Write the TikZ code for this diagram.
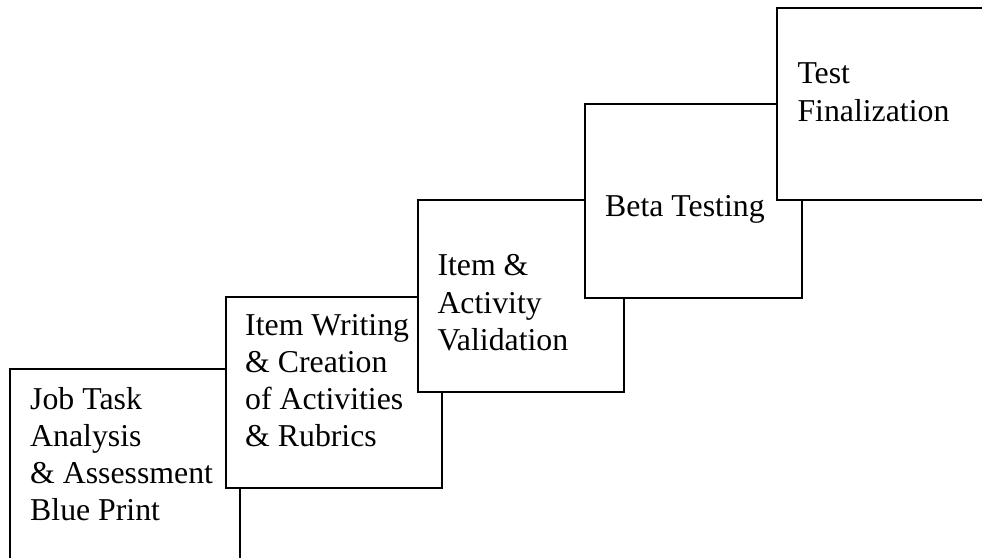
\documentclass[tikz,border=0pt]{standalone}
\usepackage{fontspec}
\setmainfont{Liberation Serif}
\begin{document}
\begin{tikzpicture}[x=1pt,y=-1pt,
  stage/.style={draw=black, fill=white, line width=2pt, inner sep=0pt, anchor=north west},
  caption/.style={inner sep=0pt, anchor=base west, align=left,
    font=\fontsize{31.8}{36.9}\selectfont}]
\useasboundingbox (0,0) rectangle (982,557);
\clip (0,0) rectangle (982,557);

% step 1 (captions are placed by the baseline of their last line)
\node[stage, minimum width=230.5pt, minimum height=240pt] (s1) at (8.5,368) {};
\node[caption] (t1) at (30,520) {Job Task\\Analysis\\\& Assessment\\Blue Print};

% step 2
\node[stage, minimum width=216.2pt, minimum height=191.5pt] (s2) at (224.5,295.5) {};
\node[caption] (t2) at (245,446.2) {Item Writing\\\& Creation\\of Activities\\\& Rubrics};

% step 3
\node[stage, minimum width=206.6pt, minimum height=191.4pt] (s3) at (416.7,199.3) {};
\node[caption, font=\fontsize{31.8}{37.5}\selectfont] (t3) at (437.3,350.7) {Item \&\\Activity\\Validation};

% step 4
\node[stage, minimum width=216.4pt, minimum height=194pt] (s4) at (584.3,103.3) {};
\node[caption] (t4) at (605,216.7) {Beta Testing};

% step 5
\node[stage, minimum width=280pt, minimum height=192pt] (s5) at (776,7.3) {};
\node[caption, font=\fontsize{31.8}{38.3}\selectfont] (t5) at (797.3,121.6) {Test\\Finalization};
\end{tikzpicture}
\end{document}
